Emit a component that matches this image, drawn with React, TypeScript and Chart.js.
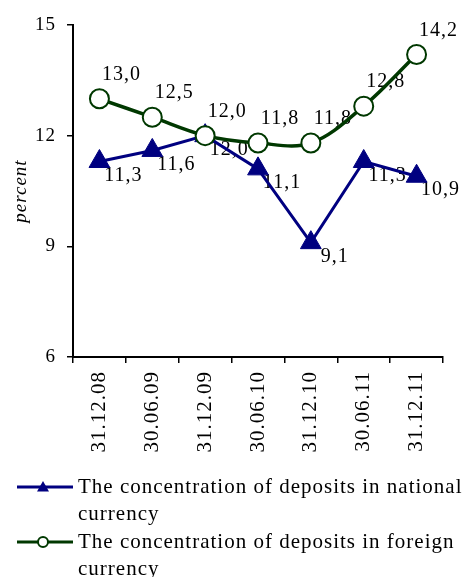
import React, { useEffect, useRef } from "react";
import { Chart, registerables } from "chart.js";

Chart.register(...registerables);

const categories = ["31.12.08", "30.06.09", "31.12.09", "30.06.10", "31.12.10", "30.06.11", "31.12.11"];
const nationalValues = [11.3, 11.6, 12.0, 11.1, 9.1, 11.3, 10.9];
const foreignValues = [13.0, 12.5, 12.0, 11.8, 11.8, 12.8, 14.2];
const nationalLabel = "The concentration of deposits in national currency";
const foreignLabel = "The concentration of deposits in foreign currency";
const yTicks = [6, 9, 12, 15];
const yTitle = "percent";

const BLUE = "#000080";
const GREEN = "#003800";
const FONT = "'Liberation Serif', 'Times New Roman', serif";

const spacingPlugin = {
  id: "spacing",
  beforeUpdate(chart: any) {
    chart.ctx.letterSpacing = "1px";
  },
  beforeDraw(chart: any) {
    chart.ctx.letterSpacing = "1px";
  },
};

const labelPlugin = {
  id: "valueLabels",
  beforeDatasetsDraw(chart: any) {
    const ctx = chart.ctx;
    ctx.save();
    ctx.letterSpacing = "1px";
    ctx.font = `20px ${FONT}`;
    ctx.fillStyle = "#000";
    ctx.textAlign = "center";
    ctx.textBaseline = "middle";
    chart.data.datasets.forEach((ds: any, i: number) => {
      const meta = chart.getDatasetMeta(i);
      const dx = ds.labelDx;
      const dy = ds.labelDy;
      meta.data.forEach((el: any, j: number) => {
        const v = ds.data[j];
        const txt = v.toFixed(1).replace(".", ",");
        ctx.fillText(txt, el.x + dx, el.y + dy);
      });
    });
    ctx.restore();
  },
};

function wrap(ctx: any, text: string, maxW: number): string[] {
  const words = text.split(" ");
  const lines: string[] = [];
  let cur = "";
  for (const w of words) {
    const test = cur ? cur + " " + w : w;
    if (ctx.measureText(test).width > maxW && cur) {
      lines.push(cur);
      cur = w;
    } else {
      cur = test;
    }
  }
  if (cur) lines.push(cur);
  return lines;
}

const legendPlugin = {
  id: "customLegend",
  afterDraw(chart: any) {
    const ctx = chart.ctx;
    ctx.save();
    ctx.letterSpacing = "1px";
    ctx.font = `21px ${FONT}`;
    ctx.textAlign = "left";
    ctx.textBaseline = "middle";
    const textX = 78;
    const lineX1 = 17;
    const lineX2 = 73;
    const lineH = 27.5;
    let y = 487;
    const items = [
      { label: chart.data.datasets[0].label, color: BLUE, style: "triangle" },
      { label: chart.data.datasets[1].label, color: GREEN, style: "circle" },
    ];
    items.forEach((it) => {
      ctx.strokeStyle = it.color;
      ctx.lineWidth = 3;
      ctx.beginPath();
      ctx.moveTo(lineX1, y);
      ctx.lineTo(lineX2, y);
      ctx.stroke();
      const cx = (lineX1 + lineX2) / 2 - 2;
      if (it.style === "triangle") {
        ctx.fillStyle = it.color;
        ctx.beginPath();
        ctx.moveTo(cx, y - 6);
        ctx.lineTo(cx + 6, y + 4.5);
        ctx.lineTo(cx - 6, y + 4.5);
        ctx.closePath();
        ctx.fill();
      } else {
        ctx.fillStyle = "#fff";
        ctx.lineWidth = 2;
        ctx.beginPath();
        ctx.arc(cx, y, 5, 0, Math.PI * 2);
        ctx.fill();
        ctx.stroke();
      }
      ctx.fillStyle = "#000";
      const lines = wrap(ctx, it.label, 392);
      lines.forEach((ln) => {
        ctx.fillText(ln, textX, y);
        y += lineH;
      });
    });
    ctx.restore();
  },
};

export default function App() {
  const ref = useRef<HTMLCanvasElement | null>(null);
  useEffect(() => {
    if (!ref.current) return;
    const chart = new Chart(ref.current, {
      type: "line",
      data: {
        labels: categories,
        datasets: [
          {
            label: nationalLabel,
            data: nationalValues,
            borderColor: BLUE,
            backgroundColor: BLUE,
            borderWidth: 3,
            pointStyle: "triangle",
            pointRadius: 12,
            pointBorderWidth: 1,
            pointBackgroundColor: BLUE,
            pointBorderColor: BLUE,
            tension: 0,
            order: 1,
            labelDx: 24,
            labelDy: 14,
          } as any,
          {
            label: foreignLabel,
            data: foreignValues,
            borderColor: GREEN,
            backgroundColor: "#fff",
            borderWidth: 3.5,
            pointStyle: "circle",
            pointRadius: 9.5,
            pointBorderWidth: 2,
            pointBackgroundColor: "#fff",
            pointBorderColor: GREEN,
            tension: 0.35,
            order: 0,
            labelDx: 22,
            labelDy: -24,
          } as any,
        ],
      },
      options: {
        responsive: false,
        animation: false,
        devicePixelRatio: 1,
        layout: { padding: { top: 25, right: 21, left: 0, bottom: 0 } },
        plugins: {
          legend: { display: false },
          tooltip: { enabled: false },
        },
        scales: {
          x: {
            type: "category",
            offset: true,
            grid: {
              offset: true,
              drawOnChartArea: false,
              drawTicks: true,
              tickLength: 6,
              color: "#000",
              lineWidth: 1.5,
            },
            border: { color: "#000", width: 2 },
            ticks: {
              minRotation: 90,
              maxRotation: 90,
              autoSkip: false,
              padding: 8,
              color: "#000",
              font: { family: FONT, size: 21 },
            },
            afterFit: (scale: any) => {
              scale.height = 220;
            },
          },
          y: {
            min: 6,
            max: 15,
            afterBuildTicks: (scale: any) => {
              scale.ticks = yTicks.map((v) => ({ value: v }));
            },
            grid: {
              drawOnChartArea: false,
              drawTicks: true,
              tickLength: 6,
              color: "#000",
              lineWidth: 1.5,
            },
            border: { color: "#000", width: 2 },
            ticks: {
              padding: 11,
              color: "#000",
              font: { family: FONT, size: 19 },
            },
            title: {
              display: true,
              text: yTitle,
              color: "#000",
              padding: { top: 10, bottom: 0 },
              font: { family: FONT, size: 19, style: "italic" },
            },
            afterFit: (scale: any) => {
              scale.width = 73;
            },
          },
        },
      } as any,
      plugins: [spacingPlugin, labelPlugin, legendPlugin],
    });
    return () => chart.destroy();
  }, []);
  return (
    <div style={{ position: "absolute", left: 0, top: 0, width: 464, height: 577, background: "#fff" }}>
      <canvas ref={ref} width={464} height={577} />
    </div>
  );
}
